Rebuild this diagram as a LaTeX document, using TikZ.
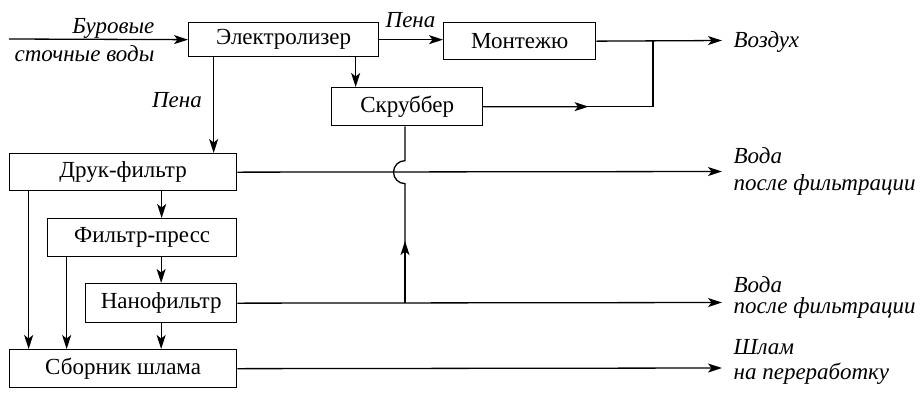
\documentclass[tikz,border=0pt]{standalone}
\usepackage{fontspec}
\setmainfont{Liberation Serif}
\newfontfamily\diagfont{Liberation Serif}
\usetikzlibrary{arrows.meta,calc}
\begin{document}
\begin{tikzpicture}[x=1pt,y=-1pt,
  font=\diagfont\fontsize{23}{27}\selectfont,
  line width=1.3pt,
  box/.style={draw,rectangle,anchor=north west,inner sep=0pt},
  arr/.style={-{Stealth[length=14pt,width=9pt,inset=3.5pt]}},
  lbl/.style={font=\diagfont\fontsize{23}{27}\selectfont\itshape,inner sep=0pt}]
\useasboundingbox (0,0) rectangle (923,392);

% process units
\node[box,minimum width=190pt,minimum height=34pt] (el) at (188,22) {Электролизер};
\node[box,minimum width=152pt,minimum height=37pt] (mo) at (443,22) {Монтежю};
\node[box,minimum width=151pt,minimum height=38pt] (sc) at (331,87) {Скруббер};
\node[box,minimum width=227pt,minimum height=37pt] (dr) at (9,153) {Друк-фильтр};
\node[box,minimum width=189pt,minimum height=38pt] (fp) at (47,218) {Фильтр-пресс};
\node[box,minimum width=151pt,minimum height=39pt] (nf) at (85,283) {Нанофильтр};
\node[box,minimum width=227pt,minimum height=38pt] (sb) at (9,349) {Сборник шлама};

% free ends
\coordinate (in) at (9,39);
\coordinate (air) at (722,40.5);
\coordinate (j) at (653,40.5);
\coordinate (w1) at (722,171.5);
\coordinate (w2) at (722,302.5);
\coordinate (s1) at (722,368);
\coordinate (hx) at (405,0);

% inlet
\draw[arr] (in) -- (el.west);
\node[lbl,anchor=base east] (t1) at (155,33) {Буровые};
\node[lbl,anchor=base east] (t2) at (155,61) {сточные воды};

% foam to the montejus and out to air
\draw[arr] (el.east) -- (el.east -| mo.west);
\node[lbl,anchor=base west] (t3) at (385,27) {Пена};
\draw[arr] (mo.east) -- (air);
\node[lbl,anchor=base west] (t4) at (733,47) {Воздух};

% scrubber
\draw[arr] ([xshift=72pt]el.south) -- ([xshift=72pt]el.south |- sc.north);
\draw (sc.east) -- (j |- sc.east) -- (j);
\draw[arr] (sc.east) -- ($(sc.east)!0.62!(j |- sc.east)$);

% foam down to the drum filter
\draw[arr] ([xshift=-70pt]el.south) -- ([xshift=-70pt]el.south |- dr.north);
\node[lbl,anchor=base] (t5) at (177,107) {Пена};

% filtered water outlets
\draw[arr] (dr.east) -- (w1);
\node[lbl,anchor=base west] (t6) at (733,163) {Вода};
\node[lbl,anchor=base west] (t7) at (733,190) {после фильтрации};
\draw[arr] (nf.east) -- (w2);
\node[lbl,anchor=base west] (t8) at (733,292) {Вода};
\node[lbl,anchor=base west] (t9) at (733,313) {после фильтрации};

% return line to the scrubber, hopping over the drum filter outlet
\coordinate (hb) at (hx |- nf.east);
\coordinate (ht) at ($(hx |- dr.east)+(0,-11.5)$);
\coordinate (hl) at ($(hx |- dr.east)+(0,11.5)$);
\draw (sc.south -| hx) -- (ht) arc[start angle=90,end angle=270,radius=11.5pt] -- (hb);
\draw[arr] (hb) -- ($(hb)!0.52!(hl)$);

% sludge lines
\draw[arr] ([xshift=38.5pt]dr.south) -- ([xshift=38.5pt]dr.south |- fp.north);
\draw[arr] ([xshift=19pt]fp.south) -- ([xshift=19pt]fp.south |- nf.north);
\draw[arr] (nf.south) -- (nf.south |- sb.north);
\draw[arr] ([xshift=-94.5pt]dr.south) -- ([xshift=-94.5pt]dr.south |- sb.north);
\draw[arr] ([xshift=-75.5pt]fp.south) -- ([xshift=-75.5pt]fp.south |- sb.north);
\draw[arr] (sb.east) -- (s1);
\node[lbl,anchor=base west] (t10) at (733,354) {Шлам};
\node[lbl,anchor=base west] (t11) at (733,379) {на переработку};
\end{tikzpicture}
\end{document}
